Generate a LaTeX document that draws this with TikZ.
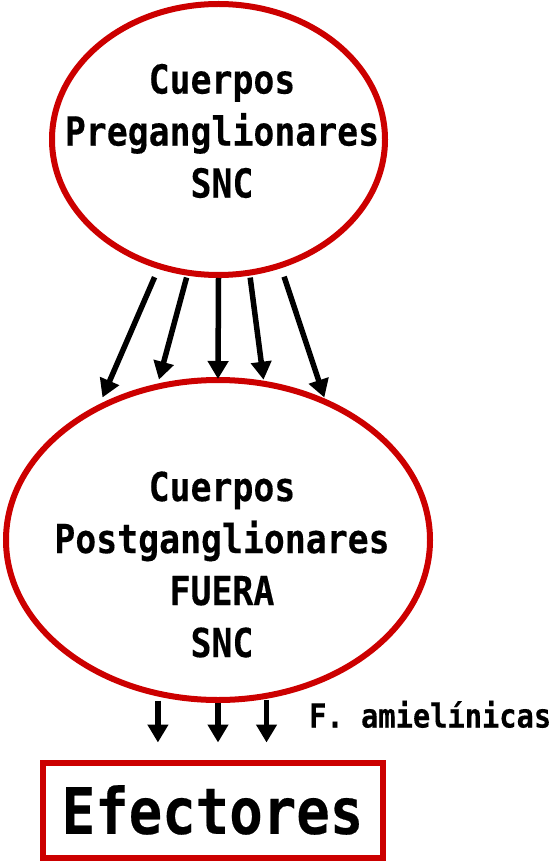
\documentclass[tikz,border=0pt]{standalone}
\usepackage{fontspec}
\newfontfamily\diagfont[FakeStretch=0.87,FakeBold=0.3]{DejaVu Sans Mono Bold}
\usetikzlibrary{shapes.geometric,arrows.meta}
\definecolor{cellred}{RGB}{204,0,0}

\begin{document}
\begin{tikzpicture}[x=1pt,y=-1pt,
		body/.style={ellipse,draw=cellred,line width=6pt,inner sep=0pt},
		txt/.style={align=center,inner sep=0pt,font=\diagfont\fontsize{40}{52}\selectfont},
		arr/.style={line width=5.5pt,-{Triangle[length=18pt,width=20pt]}}]
			\useasboundingbox (0,0) rectangle (556,866);
			\node[body,minimum width=333pt,minimum height=271pt] (pre) at (218.5,139.5) {};
			\node[txt] (pretxt) at (222,131) {Cuerpos\\Preganglionares\\SNC};
			\node[body,minimum width=424pt,minimum height=320pt] (post) at (218,540) {};
			\node[txt] (posttxt) at (222,564.5) {Cuerpos\\Postganglionares\\FUERA\\SNC};
			\node[draw=cellred,line width=6pt,minimum width=340pt,minimum height=95pt,inner sep=0pt,font=\diagfont\fontsize{64}{70}\selectfont] (eff) at (212.5,810) {Efectores};
			\node[anchor=base west,inner sep=0pt,font=\diagfont\fontsize{33}{40}\selectfont] (amiel) at (309,727.5) {F. amielínicas};
			% pre -> post
			\draw[arr,shorten <=9pt,shorten >=7pt] (pre.-115.6) -- (post.131);
			\draw[arr,shorten <=2pt,shorten >=4pt] (pre.-103.1) -- (post.111);
			\draw[arr,shorten >=-2pt] (pre.-90) -- (post.90);
			\draw[arr,shorten <=2pt,shorten >=1pt] (pre.-77.8) -- (post.74.5);
			\draw[arr,shorten <=9pt,shorten >=1pt] (pre.-64.4) -- (post.53.8);
			% post -> efectores
			\draw[arr,shorten <=4pt,shorten >=17pt] (post.-111) -- (post.-111 |- eff.north);
			\draw[arr,shorten >=17pt] (post.-90) -- (post.-90 |- eff.north);
			\draw[arr,shorten <=1pt,shorten >=17pt] (post.-73.8) -- (post.-73.8 |- eff.north);
		\end{tikzpicture}
\end{document}
